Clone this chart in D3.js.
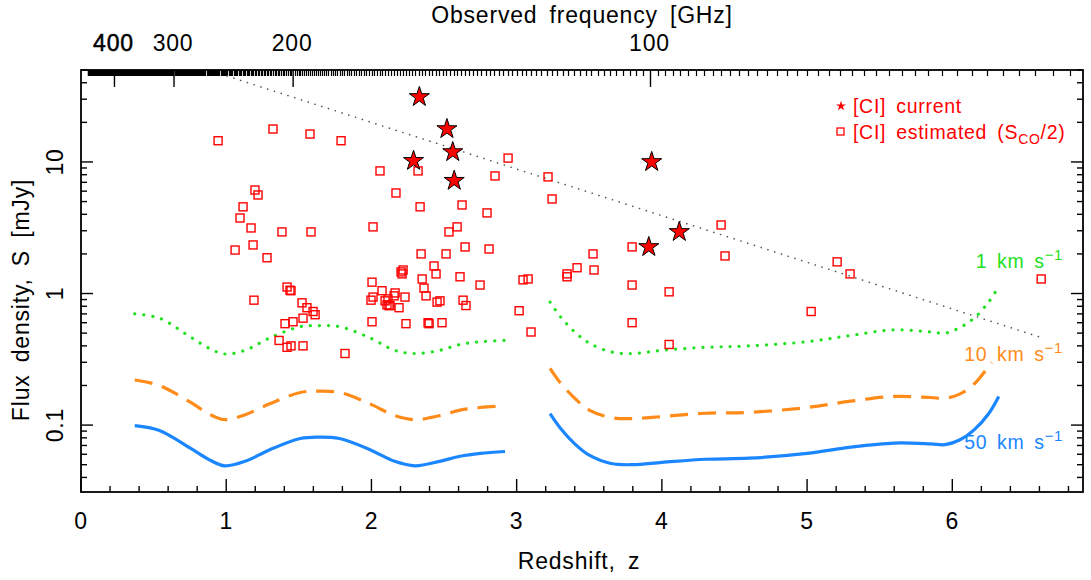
<!DOCTYPE html>
<html>
<head>
<meta charset="utf-8">
<script src="https://cdn.jsdelivr.net/npm/d3@7"></script>
<style>
  body { margin: 0; background: #fff; }
  svg { display: block; }
  text { font-family: 'Liberation Sans', Arial, sans-serif; }
</style>
</head>
<body>
<div id="chart"></div>
<script>
'use strict'

// [CI] current detections: redshift, flux density (mJy)
var starZ = [2.33, 2.52, 2.56, 2.29, 2.57, 3.93, 4.12, 3.91]
var starS = [31.2, 17.8, 11.9, 10.2, 7.2, 10.0, 2.94, 2.26]

// [CI] estimated from CO (S_CO / 2)
var squareZ = [0.944, 1.322, 1.577, 1.791, 1.198, 1.219, 1.116, 1.095, 1.171, 1.061, 1.185, 1.281,
  1.384, 1.584, 1.191, 1.419, 1.439, 1.446, 1.522, 1.556, 1.598, 1.405, 1.460, 1.529, 1.612,
  1.364, 1.419, 1.446, 1.529, 1.818, 2.011, 2.004, 2.059, 2.169, 2.163, 2.128, 2.011, 2.004,
  1.997, 2.073, 2.094, 2.107, 2.114, 2.121, 2.156, 2.190, 2.204, 2.211, 2.218, 2.231, 2.238,
  2.321, 2.335, 2.342, 2.349, 2.362, 2.376, 2.390, 2.397, 2.431, 2.445, 2.452, 2.472, 2.486,
  2.514, 2.534, 2.590, 2.624, 2.610, 2.645, 2.631, 2.651, 2.748, 2.796, 2.810, 2.851, 2.941,
  3.017, 3.044, 3.079, 3.099, 3.216, 3.244, 3.347, 3.347, 3.416, 3.526, 3.533, 3.795, 3.795,
  3.795, 4.050, 4.050, 4.408, 4.435, 5.028, 5.207, 5.296, 6.612]
var squareS = [14.5, 17.8, 16.3, 14.5, 6.12, 5.61, 4.56, 3.75, 3.15, 2.14, 2.34, 1.87,
  2.94, 2.94, 0.89, 1.12, 1.06, 1.05, 0.85, 0.78, 0.73, 0.59, 0.61, 0.65, 0.69,
  0.44, 0.39, 0.40, 0.40, 0.35, 3.21, 1.22, 8.55, 5.81, 1.01, 0.81, 0.94, 0.61,
  0.89, 1.05, 0.88, 0.82, 0.91, 0.81, 0.96, 0.78, 1.46, 1.41, 1.51, 0.94, 0.59,
  8.55, 4.56, 2.0, 1.29, 1.10, 0.96, 0.60, 0.59, 1.62, 1.41, 0.86, 0.88, 0.60,
  2.0, 2.94, 3.21, 4.71, 1.34, 2.26, 0.89, 0.81, 1.16, 4.10, 2.18, 7.83, 10.7,
  0.74, 1.27, 1.29, 0.51, 7.7, 5.23, 1.41, 1.34, 1.57, 2.0, 1.51, 2.26, 1.16,
  0.60, 1.03, 0.41, 3.32, 1.93, 0.73, 1.74, 1.41, 1.29]

// line sensitivity curves, two redshift windows each
var curveZ1 = [0.37, 0.54, 0.75, 0.89, 0.99, 1.13, 1.30, 1.51, 1.63, 1.78, 1.99, 2.16, 2.30, 2.47, 2.61, 2.75, 2.92]
var curveZ2 = [3.23, 3.30, 3.40, 3.50, 3.65, 3.80, 4.00, 4.30, 4.60, 5.00, 5.30, 5.60, 5.85, 5.95, 6.05, 6.15, 6.25, 6.32]
var curveZ2short = [3.23, 3.30, 3.40, 3.50, 3.65, 3.80, 4.00, 4.30, 4.60, 5.00, 5.30, 5.60, 5.85, 5.95, 6.05, 6.15, 6.27]
var s1kms1 = [0.70, 0.65, 0.47, 0.38, 0.347, 0.37, 0.46, 0.56, 0.57, 0.56, 0.46, 0.37, 0.35, 0.37, 0.41, 0.43, 0.44]
var s1kms2 = [0.86, 0.67, 0.51, 0.42, 0.36, 0.35, 0.37, 0.39, 0.40, 0.43, 0.48, 0.53, 0.51, 0.50, 0.55, 0.65, 0.86, 1.13]
var s10kms1 = [0.22, 0.20, 0.15, 0.12, 0.11, 0.12, 0.145, 0.177, 0.181, 0.177, 0.145, 0.118, 0.11, 0.118, 0.13, 0.136, 0.14]
var s10kms2 = [0.27, 0.21, 0.16, 0.13, 0.114, 0.112, 0.116, 0.123, 0.125, 0.136, 0.152, 0.165, 0.162, 0.160, 0.172, 0.205, 0.30]
var s50kms1 = [0.099, 0.091, 0.067, 0.054, 0.049, 0.053, 0.065, 0.079, 0.081, 0.079, 0.065, 0.053, 0.049, 0.053, 0.058, 0.061, 0.063]
var s50kms2 = [0.122, 0.095, 0.072, 0.059, 0.051, 0.050, 0.052, 0.055, 0.056, 0.061, 0.068, 0.073, 0.072, 0.071, 0.077, 0.092, 0.122, 0.165]

// dotted reference line (end points)
var refZ = [1.006, 6.6]
var refS = [45, 0.468]

// axis ticks
var xMajor = [0, 1, 2, 3, 4, 5, 6]
var yMajor = [0.1, 1, 10]
var yLabels = ['0.1', '1', '10']
var freqMajor = [400, 300, 200, 100]
var restFreq = 492.16

var width = 1091
var height = 580
var margin = { top: 70, right: 8, bottom: 88, left: 81 }

var svg = d3
  .select('#chart')
  .append('svg')
  .attr('width', width)
  .attr('height', height)

var x = d3
  .scaleLinear()
  .domain([0, 6.9])
  .range([margin.left, width - margin.right])

var y = d3
  .scaleLog()
  .domain([0.031, 50])
  .range([height - margin.bottom, margin.top])

var x0 = margin.left
var x1 = width - margin.right
var y0 = height - margin.bottom
var y1 = margin.top

function zOfFreq(f) {
  return restFreq / f - 1
}

// minor ticks
var xMinor = d3.range(0, 6.9, 0.2).filter(function(v) {
  return Math.abs(v - Math.round(v)) > 0.01
})
var yMinor = []
;[0.01, 0.1, 1, 10].forEach(function(dec) {
  for (var k = 2; k <= 9; k++) {
    var v = k * dec
    if (v >= 0.031 && v <= 50) yMinor.push(v)
  }
})
var freqMinor = d3.range(63, 471, 1).filter(function(f) {
  return freqMajor.indexOf(f) < 0
})

var axes = svg.append('g').attr('stroke', '#000').attr('stroke-width', 1.4)

function tickLines(vals, fn) {
  return axes
    .append('g')
    .selectAll('line')
    .data(vals)
    .enter()
    .append('line')
    .each(fn)
}

// bottom
tickLines(xMajor, function(d) {
  d3.select(this).attr('x1', x(d)).attr('x2', x(d)).attr('y1', y0).attr('y2', y0 - 13)
})
tickLines(xMinor, function(d) {
  d3.select(this).attr('x1', x(d)).attr('x2', x(d)).attr('y1', y0).attr('y2', y0 - 6)
})
// top frequency axis, 1 GHz minor ticks
tickLines(freqMinor, function(d) {
  var px = Math.round(x(zOfFreq(d))) + 0.5
  d3.select(this).attr('x1', px).attr('x2', px).attr('y1', y1).attr('y2', y1 + 6).attr('stroke-width', 1.2)
})
tickLines(freqMajor, function(d) {
  var px = x(zOfFreq(d))
  d3.select(this).attr('x1', px).attr('x2', px).attr('y1', y1).attr('y2', y1 + 17)
})
// left / right
;[[x0, 1], [x1, -1]].forEach(function(side) {
  tickLines(yMajor, function(d) {
    d3.select(this).attr('x1', side[0]).attr('x2', side[0] + side[1] * 12).attr('y1', y(d)).attr('y2', y(d))
  })
  tickLines(yMinor, function(d) {
    d3.select(this).attr('x1', side[0]).attr('x2', side[0] + side[1] * 6).attr('y1', y(d)).attr('y2', y(d))
  })
})

axes
  .append('rect')
  .attr('x', x0)
  .attr('y', y1)
  .attr('width', x1 - x0)
  .attr('height', y0 - y1)
  .attr('fill', 'none')
  .attr('stroke-width', 1.8)

// labels
var lab = svg
  .append('g')
  .attr('fill', '#000')
  .attr('font-size', 23)
  .attr('letter-spacing', 0.8)

lab
  .selectAll('.xl')
  .data(xMajor)
  .enter()
  .append('text')
  .attr('x', function(d) { return x(d) })
  .attr('y', 529)
  .attr('text-anchor', 'middle')
  .text(function(d) { return d })

lab
  .selectAll('.fl')
  .data(freqMajor)
  .enter()
  .append('text')
  .attr('x', function(d) { return x(zOfFreq(d)) - 1 })
  .attr('y', 51)
  .attr('text-anchor', 'middle')
  .attr('stroke', function(d) { return d === 400 ? '#000' : null })
  .attr('stroke-width', 0.5)
  .text(function(d) { return d })

lab
  .selectAll('.yl')
  .data(yMajor)
  .enter()
  .append('text')
  .attr('transform', function(d) { return 'translate(63,' + y(d) + ') rotate(-90)' })
  .attr('text-anchor', 'middle')
  .text(function(d, i) { return yLabels[i] })

lab
  .append('text')
  .attr('x', 582)
  .attr('y', 23)
  .attr('text-anchor', 'middle')
  .attr('word-spacing', 5)
  .text('Observed frequency [GHz]')

lab
  .append('text')
  .attr('x', 579)
  .attr('y', 569)
  .attr('text-anchor', 'middle')
  .attr('word-spacing', 5)
  .text('Redshift, z')

lab
  .append('text')
  .attr('transform', 'translate(29,300) rotate(-90)')
  .attr('text-anchor', 'middle')
  .attr('word-spacing', 5)
  .text('Flux density, S [mJy]')

// plot area
var plot = svg.append('g')

plot
  .append('path')
  .datum(d3.zip(refZ, refS))
  .attr('fill', 'none')
  .attr('stroke', '#555')
  .attr('stroke-width', 1.6)
  .attr('stroke-dasharray', '0.1 7')
  .attr('stroke-linecap', 'round')
  .attr('d', d3.line().x(function(d) { return x(d[0]) }).y(function(d) { return y(d[1]) }))

var line = d3
  .line()
  .curve(d3.curveCatmullRom)
  .x(function(d) { return x(d[0]) })
  .y(function(d) { return y(d[1]) })

var curves = [
  { z: [curveZ1, curveZ2], seg: [s1kms1, s1kms2], color: '#22e022', dash: '0.1 9', cap: 'round' },
  { z: [curveZ1, curveZ2short], seg: [s10kms1, s10kms2], color: '#ff8c1a', dash: '18 10', cap: 'butt' },
  { z: [curveZ1, curveZ2], seg: [s50kms1, s50kms2], color: '#1a86ff', dash: null, cap: 'butt' }
]

curves.forEach(function(c) {
  c.z.forEach(function(zs, i) {
    plot
      .append('path')
      .datum(d3.zip(zs, c.seg[i]))
      .attr('fill', 'none')
      .attr('stroke', c.color)
      .attr('stroke-width', 3.2)
      .attr('stroke-dasharray', c.dash)
      .attr('stroke-linecap', c.cap)
      .attr('d', line)
  })
})

plot
  .selectAll('.sq')
  .data(d3.zip(squareZ, squareS))
  .enter()
  .append('rect')
  .attr('x', function(d) { return x(d[0]) - 4 })
  .attr('y', function(d) { return y(d[1]) - 4 })
  .attr('width', 8)
  .attr('height', 8)
  .attr('fill', 'none')
  .attr('stroke', 'red')
  .attr('stroke-width', 1.4)

var star = d3.symbol().type(d3.symbolStar).size(125)

plot
  .selectAll('.st')
  .data(d3.zip(starZ, starS))
  .enter()
  .append('path')
  .attr('transform', function(d) { return 'translate(' + x(d[0]) + ',' + y(d[1]) + ')' })
  .attr('d', star)
  .attr('fill', 'red')
  .attr('stroke', '#000')
  .attr('stroke-width', 1)

// curve labels
var cl = svg
  .append('g')
  .attr('font-size', 19.5)
  .attr('letter-spacing', 0.6)
  .attr('text-anchor', 'end')
;[['1', 268, '#22e022'], ['10', 361, '#ff8c1a'], ['50', 449, '#1a86ff']].forEach(function(l) {
  var t = cl
    .append('text')
    .attr('x', 1063)
    .attr('y', l[1])
    .attr('fill', l[2])
    .attr('word-spacing', 4)
  t.append('tspan').text(l[0] + ' km s')
  t.append('tspan').attr('dy', -8).attr('font-size', 15).text('\u22121')
})

// legend
var lg = svg
  .append('g')
  .attr('fill', 'red')
  .attr('font-size', 19.5)
  .attr('letter-spacing', 0.7)
lg.append('path')
  .attr('transform', 'translate(841,106)')
  .attr('d', d3.symbol().type(d3.symbolStar).size(30))
lg.append('rect')
  .attr('x', 837)
  .attr('y', 128)
  .attr('width', 7)
  .attr('height', 7)
  .attr('fill', 'none')
  .attr('stroke', 'red')
  .attr('stroke-width', 1.3)
lg.append('text').attr('x', 853).attr('y', 113).attr('word-spacing', 4).text('[CI] current')
var est = lg.append('text').attr('x', 853).attr('y', 139).attr('word-spacing', 4)
est.append('tspan').text('[CI] estimated (S')
est.append('tspan').attr('dy', 5).attr('font-size', 14).text('CO')
est.append('tspan').attr('dy', -5).text('/2)')
</script>
</body>
</html>
